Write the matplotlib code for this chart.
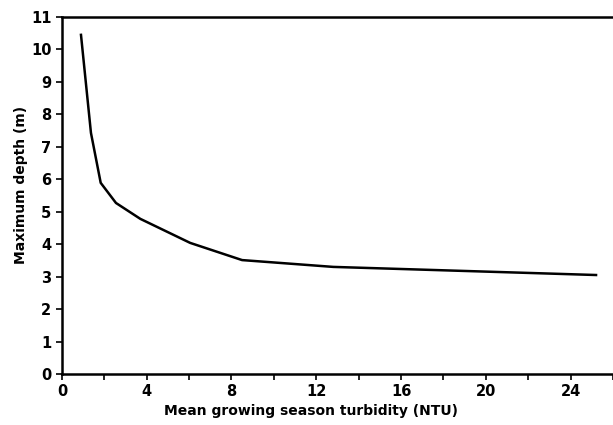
"""
Maximum depth vs. mean growing season turbidity
"""

import matplotlib.pyplot as plt
from matplotlib.ticker import MultipleLocator

# Data
turbidity = [0.9, 1.37, 1.83, 2.55, 3.7, 6.05, 8.5, 12.8, 25.2]
max_depth = [10.45, 7.43, 5.89, 5.27, 4.78, 4.04, 3.51, 3.30, 3.05]

plt.rcParams['font.family'] = ['DejaVu Sans']

fig = plt.figure(figsize=(6.13, 4.25), dpi=100)
ax = fig.add_axes([0.101, 0.12, 0.899, 0.84])

ax.plot(turbidity, max_depth, color='black', lw=1.8)

ax.set_xlim(0, 26)
ax.set_ylim(0, 11)
ax.xaxis.set_major_locator(MultipleLocator(4))
ax.xaxis.set_minor_locator(MultipleLocator(2))
ax.yaxis.set_major_locator(MultipleLocator(1))
ax.tick_params(which='both', direction='out', length=4.5, width=1.2,
               labelsize=10.5, pad=3)
for lab in ax.get_xticklabels() + ax.get_yticklabels():
    lab.set_fontweight('bold')

ax.spines['right'].set_visible(False)
for s in ['left', 'bottom', 'top']:
    ax.spines[s].set_linewidth(1.8)

ax.set_xlabel("Mean growing season turbidity (NTU)", fontsize=10,
              fontweight='bold')
ax.set_ylabel("Maximum depth (m)", fontsize=10, fontweight='bold')
ax.xaxis.set_label_coords(0.452, -0.083)
ax.yaxis.set_label_coords(-0.062, 0.53)

plt.savefig("out.png", dpi=100)
